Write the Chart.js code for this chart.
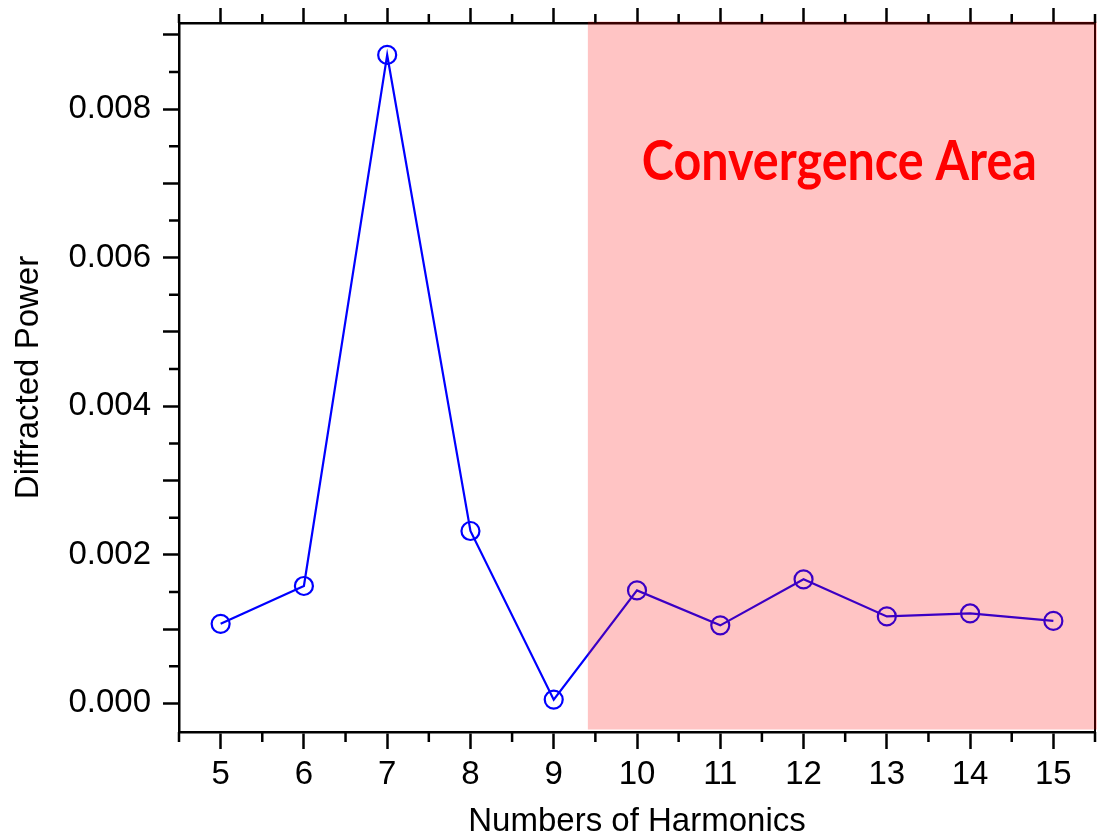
<!DOCTYPE html>
<html>
<head>
<meta charset="utf-8">
<title>Diffracted Power vs Numbers of Harmonics</title>
<script src="https://cdn.jsdelivr.net/npm/chart.js"></script>
<style>
  html, body { margin: 0; padding: 0; background: #fff; }
  canvas { display: block; }
</style>
</head>
<body>
<canvas id="chart" width="1097" height="838"></canvas>
<script>
// Data
const harmonics = [5, 6, 7, 8, 9, 10, 11, 12, 13, 14, 15];
const diffractedPower = [0.00107, 0.00158, 0.00873, 0.00232, 0.00005, 0.00152, 0.00105, 0.00167, 0.00117, 0.00121, 0.00111];

// Axis ticks
const xMajorTicks = [5, 6, 7, 8, 9, 10, 11, 12, 13, 14, 15];
const xMinorTicks = [4.5, 5.5, 6.5, 7.5, 8.5, 9.5, 10.5, 11.5, 12.5, 13.5, 14.5, 15.5];
const yMajorTicks = [0, 0.001, 0.002, 0.003, 0.004, 0.005, 0.006, 0.007, 0.008, 0.009];
const yMinorTicks = [0.0005, 0.0015, 0.0025, 0.0035, 0.0045, 0.0055, 0.0065, 0.0075, 0.0085];
const yTickLabels = ['0.000', '0.002', '0.004', '0.006', '0.008'];

// Shaded region
const convergenceStart = 9.41;
const convergenceText = 'Convergence Area';

const X_MIN = 4.5, X_MAX = 15.5;
const Y_MIN = -0.000386, Y_MAX = 0.00916;

Chart.defaults.font.family = '"Liberation Sans", Arial, sans-serif';
Chart.defaults.color = '#000';

const axisFont = { family: '"Liberation Sans", Arial, sans-serif', size: 33 };
const titleFont = { family: '"Liberation Sans", Arial, sans-serif', size: 33, lineHeight: 1 };

// fixed box sizes, no extra label padding
function fixBox(size) {
    return s => {
        if (s.isHorizontal()) s.height = size; else s.width = size;
        s.paddingLeft = 0;
        s.paddingRight = 0;
        s.paddingTop = 0;
        s.paddingBottom = 0;
    };
}

// short ticks between the long ones
const minorTicks = {
    id: 'minorTicks',
    afterDraw(chart) {
        const { ctx, chartArea: a, scales } = chart;
        ctx.save();
        ctx.strokeStyle = '#000';
        ctx.lineWidth = 2.5;
        ctx.beginPath();
        xMinorTicks.forEach(v => {
            const px = scales.x.getPixelForValue(v);
            ctx.moveTo(px, a.bottom);
            ctx.lineTo(px, a.bottom + 10);
            ctx.moveTo(px, a.top);
            ctx.lineTo(px, a.top - 9);
        });
        yMinorTicks.forEach(v => {
            const py = scales.y.getPixelForValue(v);
            ctx.moveTo(a.left, py);
            ctx.lineTo(a.left - 10, py);
        });
        ctx.stroke();
        ctx.restore();
    }
};

// pink overlay + label
const convergenceArea = {
    id: 'convergenceArea',
    afterDatasetsDraw(chart) {
        const { ctx, chartArea: a, scales } = chart;
        const x0 = scales.x.getPixelForValue(convergenceStart);
        ctx.save();
        ctx.fillStyle = 'rgba(255, 0, 0, 0.23)';
        ctx.fillRect(x0, a.top - 1.5, chart.width - x0, a.bottom - a.top - 1);

        ctx.font = 'bold 55px Lato, "Open Sans", sans-serif';
        const w = ctx.measureText(convergenceText).width;
        const cx = scales.x.getPixelForValue(12.43);
        const by = scales.y.getPixelForValue(0.00705);
        ctx.translate(cx, by);
        ctx.scale(395 / w, 1);
        ctx.fillStyle = '#FF0000';
        ctx.textAlign = 'center';
        ctx.textBaseline = 'alphabetic';
        ctx.fillText(convergenceText, 0, 0);
        ctx.restore();
    }
};

const ctx = document.getElementById('chart').getContext('2d');
new Chart(ctx, {
    type: 'line',
    data: {
        datasets: [{
            data: harmonics.map((h, i) => ({ x: h, y: diffractedPower[i] })),
            borderColor: '#0000FF',
            borderWidth: 2.2,
            pointStyle: 'circle',
            pointRadius: 9,
            pointBorderWidth: 2.2,
            pointBorderColor: '#0000FF',
            pointBackgroundColor: 'rgba(0,0,0,0)',
            tension: 0,
            fill: false,
            xAxisID: 'x',
            yAxisID: 'y'
        }]
    },
    options: {
        responsive: false,
        animation: false,
        layout: { padding: 0, autoPadding: false },
        plugins: {
            legend: { display: false },
            tooltip: { enabled: false }
        },
        scales: {
            x: {
                type: 'linear',
                position: 'bottom',
                min: X_MIN,
                max: X_MAX,
                afterBuildTicks: s => { s.ticks = xMajorTicks.map(v => ({ value: v })); },
                afterFit: fixBox(106),
                grid: { drawOnChartArea: false, drawTicks: true, tickLength: 17, tickWidth: 2.5, tickColor: '#000' },
                border: { display: true, color: '#000', width: 2.5 },
                ticks: { font: axisFont, color: '#000', padding: 6, maxRotation: 0, autoSkip: false, callback: v => String(v) },
                title: { display: true, text: 'Numbers of Harmonics', font: titleFont, color: '#000', padding: { top: 0, bottom: 0 } }
            },
            x2: {
                type: 'linear',
                axis: 'x',
                position: 'top',
                min: X_MIN,
                max: X_MAX,
                afterBuildTicks: s => { s.ticks = xMajorTicks.map(v => ({ value: v })); },
                afterFit: fixBox(23),
                grid: { drawOnChartArea: false, drawTicks: true, tickLength: 15, tickWidth: 2.5, tickColor: '#000' },
                border: { display: true, color: '#000', width: 2.5 },
                ticks: { display: false }
            },
            y: {
                type: 'linear',
                position: 'left',
                min: Y_MIN,
                max: Y_MAX,
                afterBuildTicks: s => { s.ticks = yMajorTicks.map(v => ({ value: v })); },
                afterFit: fixBox(179),
                grid: { drawOnChartArea: false, drawTicks: true, tickLength: 16, tickWidth: 2.5, tickColor: '#000' },
                border: { display: true, color: '#000', width: 2.5 },
                ticks: {
                    font: axisFont,
                    color: '#000',
                    padding: 12,
                    autoSkip: false,
                    callback: v => {
                        const s = Math.abs(v).toFixed(3);
                        return yTickLabels.includes(s) ? s : '';
                    }
                },
                title: { display: true, text: 'Diffracted Power', font: titleFont, color: '#000', padding: { top: 12, bottom: 0 } }
            },
            y2: {
                type: 'linear',
                axis: 'y',
                position: 'right',
                min: Y_MIN,
                max: Y_MAX,
                afterFit: fixBox(2),
                grid: { display: false },
                border: { display: true, color: '#000', width: 2 },
                ticks: { display: false }
            }
        }
    },
    plugins: [convergenceArea, minorTicks]
});
</script>
</body>
</html>
